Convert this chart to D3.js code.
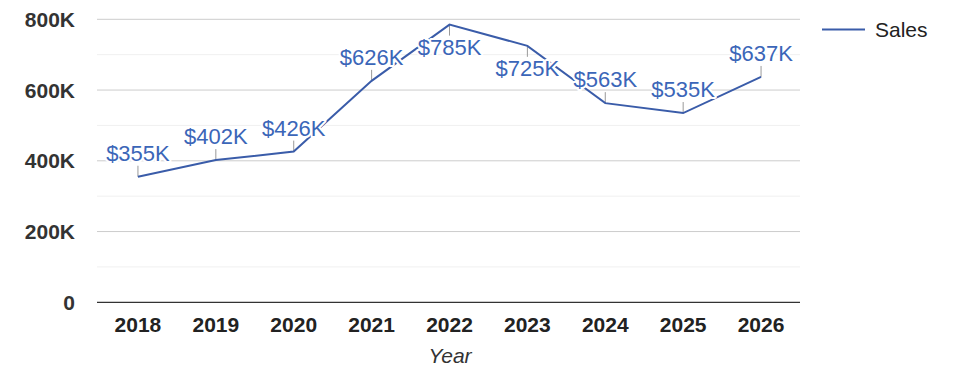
<!DOCTYPE html>
<html><head><meta charset="utf-8">
<script src="https://cdn.jsdelivr.net/npm/d3@7"></script>
<style>
html,body{margin:0;padding:0;background:#fff;}
svg{display:block;font-family:Arial,"Liberation Sans",sans-serif;}
</style></head>
<body><svg id="chart" width="975" height="378"></svg>
<script>
const years = ["2018","2019","2020","2021","2022","2023","2024","2025","2026"];
const sales = [355000, 402000, 426000, 626000, 785000, 725000, 563000, 535000, 637000];
const yTicks = [0, 200000, 400000, 600000, 800000];
const yMinorTicks = [100000, 300000, 500000, 700000];
const seriesName = "Sales";
const xTitle = "Year";

(function () {
const svg = d3.select("#chart");
const pLeft = 97, pRight = 800, pTop = 19.3, pBottom = 302.3;
const lineColor = "#3a5ca9", labelColor = "#3b66b8";

const x = d3.scaleBand().domain(years).range([99, 800]);
const y = d3.scaleLinear().domain([0, 800000]).range([pBottom, pTop]);

// gridlines
svg.append("g").selectAll("line").data(yMinorTicks).join("line")
  .attr("x1", pLeft).attr("x2", pRight)
  .attr("y1", d => y(d)).attr("y2", d => y(d))
  .attr("stroke", "#f0f0f0").attr("stroke-width", 1);
svg.append("g").selectAll("line").data(yTicks.filter(d => d > 0)).join("line")
  .attr("x1", pLeft).attr("x2", pRight)
  .attr("y1", d => y(d)).attr("y2", d => y(d))
  .attr("stroke", "#cccccc").attr("stroke-width", 1);

// y axis labels
const fmtAxis = d => d === 0 ? "0" : (d / 1000) + "K";
svg.append("g").selectAll("text").data(yTicks).join("text")
  .attr("x", 75).attr("y", d => y(d)).attr("dy", "0.36em")
  .attr("text-anchor", "end").attr("font-size", 21).attr("font-weight", "bold")
  .attr("fill", "#333").text(fmtAxis);

// x axis labels
svg.append("g").selectAll("text").data(years).join("text")
  .attr("x", d => x(d) + x.bandwidth() / 2).attr("y", 332)
  .attr("text-anchor", "middle").attr("font-size", 21).attr("font-weight", "bold")
  .attr("fill", "#222").text(d => d);

svg.append("text").attr("x", 450).attr("y", 363).attr("text-anchor", "middle")
  .attr("font-size", 21).attr("font-style", "italic").attr("fill", "#333").text(xTitle);

// baseline
svg.append("line").attr("x1", pLeft).attr("x2", pRight)
  .attr("y1", y(0)).attr("y2", y(0)).attr("stroke", "#333").attr("stroke-width", 1.3);

const cx = (d, i) => x(years[i]) + x.bandwidth() / 2;

// leader lines
const below = v => v >= 700000;
svg.append("g").selectAll("line").data(sales).join("line")
  .attr("x1", (d, i) => cx(d, i)).attr("x2", (d, i) => cx(d, i))
  .attr("y1", d => y(d)).attr("y2", d => below(d) ? y(d) + 11 : y(d) - 11)
  .attr("stroke", "#999").attr("stroke-width", 1);

// line
const line = d3.line().x((d, i) => cx(d, i)).y(d => y(d));
svg.append("path").datum(sales).attr("d", line)
  .attr("fill", "none").attr("stroke", lineColor).attr("stroke-width", 2);

// labels
const fmtLabel = d => "$" + Math.round(d / 1000) + "K";
svg.append("g").selectAll("text").data(sales).join("text")
  .attr("x", (d, i) => cx(d, i))
  .attr("y", d => below(d) ? y(d) + 30 : y(d) - 16)
  .attr("text-anchor", "middle").attr("font-size", 22)
  .attr("fill", labelColor)
  .attr("stroke", "#fff").attr("stroke-width", 4).attr("paint-order", "stroke")
  .attr("stroke-linejoin", "round")
  .text(fmtLabel);

// legend
svg.append("line").attr("x1", 822).attr("x2", 865).attr("y1", 29.5).attr("y2", 29.5)
  .attr("stroke", lineColor).attr("stroke-width", 2);
svg.append("text").attr("x", 875).attr("y", 29.5).attr("dy", "0.36em")
  .attr("font-size", 21).attr("fill", "#222").text(seriesName);
})();
</script></body></html>
